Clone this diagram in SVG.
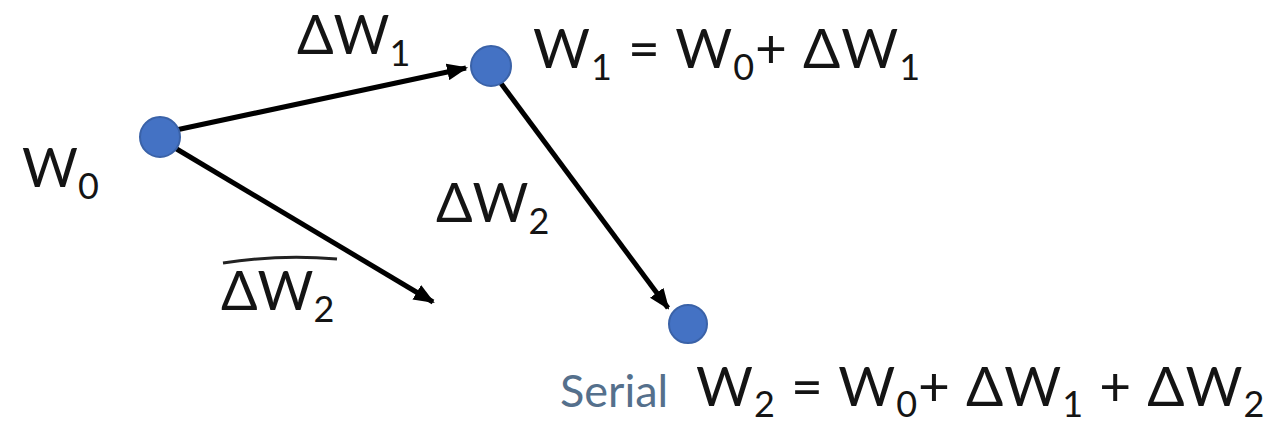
<svg xmlns="http://www.w3.org/2000/svg" width="1268" height="428" viewBox="0 0 1268 428">
<style>
.t{font-family:Lato,"Open Sans","Liberation Sans",sans-serif;font-size:54px;fill:#141414}
.f{font-size:55px}
.s{font-size:36px}
.node{fill:#4472c4;stroke:#3a62a8;stroke-width:2}
.edge{stroke:#000;stroke-width:5;fill:none}
.serial{font-family:Lato,"Open Sans","Liberation Sans",sans-serif;font-size:45px;fill:#55708c}
</style>
<defs>
<marker id="ah" viewBox="0 0 10 8" refX="9" refY="4" markerWidth="4.2" markerHeight="3.4" markerUnits="strokeWidth" orient="auto">
<path d="M0,0 L10,4 L0,8 z" fill="#000"/>
</marker>
</defs>
<rect width="1268" height="428" fill="#fff"/>
<g id="connectors">
<line class="edge" x1="176" y1="130" x2="466" y2="68" marker-end="url(#ah)"/>
<line class="edge" x1="500" y1="82" x2="668" y2="308" marker-end="url(#ah)"/>
<line class="edge" x1="175" y1="148" x2="433" y2="302" marker-end="url(#ah)"/>
</g>
<g id="w0">
<circle class="node" cx="160" cy="137" r="20"/>
<text class="t" x="22" y="187">W<tspan class="s" dy="12">0</tspan></text>
</g>
<g id="w1">
<circle class="node" cx="491" cy="66" r="20"/>
<text class="t f" x="533" y="68" letter-spacing="1">W<tspan class="s" dy="12">1</tspan><tspan dy="-12"> = W</tspan><tspan class="s" dy="12">0</tspan><tspan dy="-12">+ ΔW</tspan><tspan class="s" dy="12">1</tspan></text>
</g>
<g id="w2">
<circle class="node" cx="688" cy="324" r="19"/>
<text class="serial" x="560" y="407">Serial</text>
<text class="t f" x="696" y="406" letter-spacing="1">W<tspan class="s" dy="11">2</tspan><tspan dy="-11"> = W</tspan><tspan class="s" dy="11">0</tspan><tspan dy="-11">+ ΔW</tspan><tspan class="s" dy="11">1</tspan><tspan dy="-11"> + ΔW</tspan><tspan class="s" dy="11">2</tspan></text>
</g>
<g id="label-dw1">
<text class="t" x="297" y="54">ΔW<tspan class="s" dy="12">1</tspan></text>
</g>
<g id="label-dw2">
<text class="t" x="436" y="222">ΔW<tspan class="s" dy="12">2</tspan></text>
</g>
<g id="label-dw2-tilde">
<path d="M223,263 Q280,254 337,259" stroke="#222" stroke-width="3" fill="none"/>
<text class="t" x="221" y="310">ΔW<tspan class="s" dy="12">2</tspan></text>
</g>
</svg>
